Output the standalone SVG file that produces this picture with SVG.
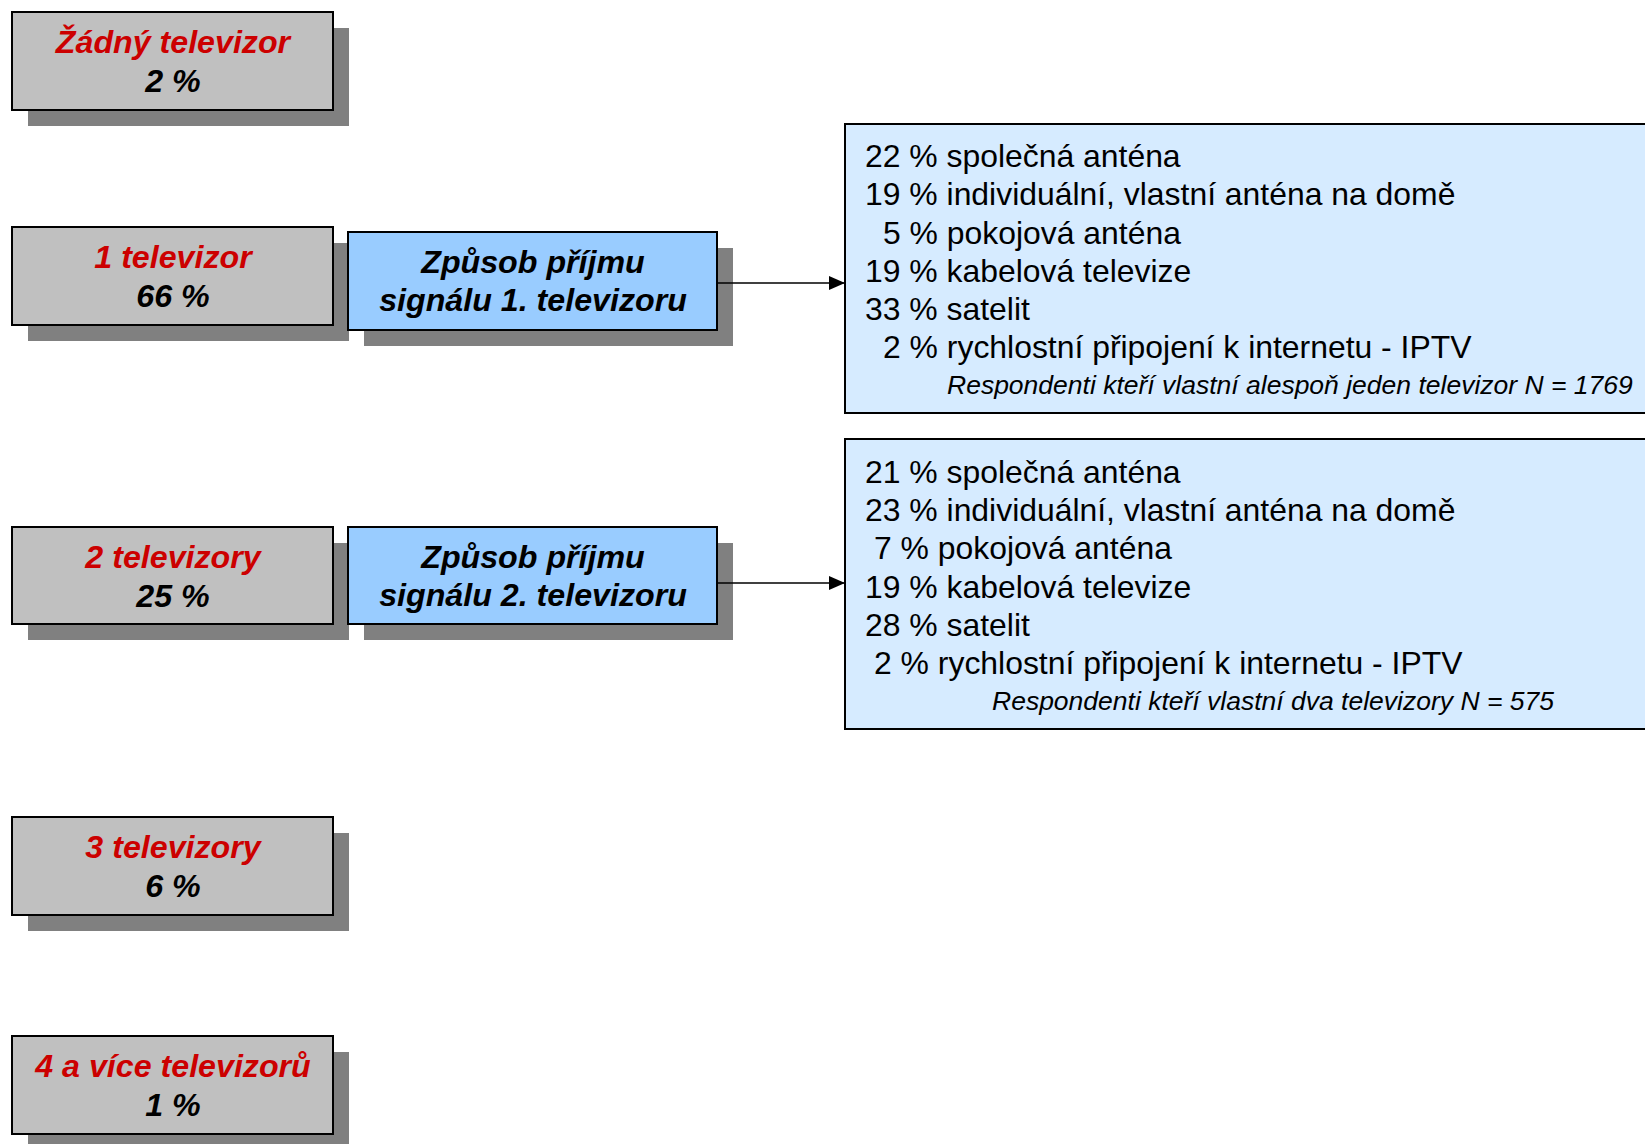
<svg xmlns="http://www.w3.org/2000/svg" width="1645" height="1144" viewBox="0 0 1645 1144">
<style>
.shadow{fill:#808080}
.gray{fill:#c0c0c0;stroke:#000;stroke-width:2}
.blue{fill:#99ccff;stroke:#000;stroke-width:2}
.light{fill:#d6ebff;stroke:#000;stroke-width:2}
.t{font-family:"Liberation Sans",Arial,sans-serif;font-style:italic;font-weight:bold;font-size:32.2px;text-anchor:middle}
.red{fill:#cc0000}
.blk{fill:#000}
.list{font-family:"Liberation Sans",Arial,sans-serif;font-size:31.9px;fill:#000}
.note{font-family:"Liberation Sans",Arial,sans-serif;font-style:italic;font-size:26.5px;fill:#000}
.conn{stroke:#000;stroke-width:1.5;fill:none}
</style>
<defs>
<marker id="arr" viewBox="0 0 16 14" refX="16" refY="7" markerWidth="16" markerHeight="14" markerUnits="userSpaceOnUse" orient="auto">
<path d="M0,0 L16,7 L0,14 Z" fill="#000"/>
</marker>
</defs>
<rect width="1645" height="1144" fill="#fff"/>

<g id="n-none">
<rect class="shadow" x="28" y="28" width="321" height="98"/>
<rect class="gray" x="12" y="12" width="321" height="98"/>
<text class="t red" x="173" y="53">Žádný televizor</text>
<text class="t blk" x="173" y="92">2 %</text>
</g>

<g id="n-one">
<rect class="shadow" x="28" y="243" width="321" height="98"/>
<rect class="gray" x="12" y="227" width="321" height="98"/>
<text class="t red" x="173" y="268">1 televizor</text>
<text class="t blk" x="173" y="307">66 %</text>
</g>

<g id="n-sig1">
<rect class="shadow" x="364" y="248" width="369" height="98"/>
<rect class="blue" x="348" y="232" width="369" height="98"/>
<text class="t blk" x="533" y="273">Způsob příjmu</text>
<text class="t blk" x="533" y="311">signálu 1. televizoru</text>
</g>

<g id="n-res1">
<rect class="light" x="845" y="124" width="830" height="289"/>
<text class="list" x="865" y="167">22 % společná anténa</text>
<text class="list" x="865" y="205">19 % individuální, vlastní anténa na domě</text>
<text class="list" x="883" y="244">5 % pokojová anténa</text>
<text class="list" x="865" y="282">19 % kabelová televize</text>
<text class="list" x="865" y="320">33 % satelit</text>
<text class="list" x="883" y="358">2 % rychlostní připojení k internetu - IPTV</text>
<text class="note" x="947" y="394">Respondenti kteří vlastní alespoň jeden televizor N = 1769</text>
</g>

<g id="n-two">
<rect class="shadow" x="28" y="543" width="321" height="97"/>
<rect class="gray" x="12" y="527" width="321" height="97"/>
<text class="t red" x="173" y="568">2 televizory</text>
<text class="t blk" x="173" y="607">25 %</text>
</g>

<g id="n-sig2">
<rect class="shadow" x="364" y="543" width="369" height="97"/>
<rect class="blue" x="348" y="527" width="369" height="97"/>
<text class="t blk" x="533" y="568">Způsob příjmu</text>
<text class="t blk" x="533" y="606">signálu 2. televizoru</text>
</g>

<g id="n-res2">
<rect class="light" x="845" y="439" width="830" height="290"/>
<text class="list" x="865" y="483">21 % společná anténa</text>
<text class="list" x="865" y="521">23 % individuální, vlastní anténa na domě</text>
<text class="list" x="874" y="559">7 % pokojová anténa</text>
<text class="list" x="865" y="598">19 % kabelová televize</text>
<text class="list" x="865" y="636">28 % satelit</text>
<text class="list" x="874" y="674">2 % rychlostní připojení k internetu - IPTV</text>
<text class="note" x="992" y="710">Respondenti kteří vlastní dva televizory N = 575</text>
</g>

<g id="n-three">
<rect class="shadow" x="28" y="833" width="321" height="98"/>
<rect class="gray" x="12" y="817" width="321" height="98"/>
<text class="t red" x="173" y="858">3 televizory</text>
<text class="t blk" x="173" y="897">6 %</text>
</g>

<g id="n-four">
<rect class="shadow" x="28" y="1052" width="321" height="98"/>
<rect class="gray" x="12" y="1036" width="321" height="98"/>
<text class="t red" x="173" y="1077">4 a více televizorů</text>
<text class="t blk" x="173" y="1116">1 %</text>
</g>

<g id="connectors">
<line class="conn" x1="717" y1="283" x2="845" y2="283" marker-end="url(#arr)"/>
<line class="conn" x1="717" y1="583" x2="845" y2="583" marker-end="url(#arr)"/>
</g>
</svg>
